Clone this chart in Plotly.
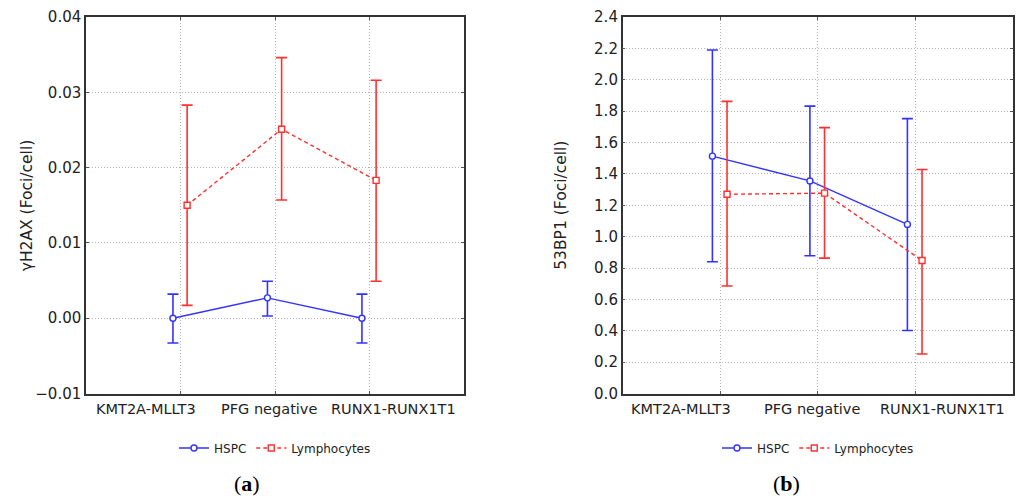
import plotly.graph_objects as go

categories = ["KMT2A-MLLT3", "PFG negative", "RUNX1-RUNX1T1"]
tick_pos = [0, 1, 2]
# where the category labels sit along each x axis (they are spread wider than the grid)
label_pos_a = [-0.37, 0.94, 2.25]
label_pos_b = [-0.40, 0.94, 2.28]

# Panel (a): γH2AX
a_hspc = [0.0000, 0.0027, 0.0000]
a_hspc_hi = [0.0032, 0.0049, 0.0032]
a_hspc_lo = [-0.0033, 0.0003, -0.0033]
a_lym = [0.0150, 0.0251, 0.0183]
a_lym_hi = [0.0283, 0.0346, 0.0316]
a_lym_lo = [0.0017, 0.0157, 0.0049]

# Panel (b): 53BP1
b_hspc = [1.513, 1.355, 1.078]
b_hspc_hi = [2.190, 1.832, 1.752]
b_hspc_lo = [0.840, 0.878, 0.402]
b_lym = [1.270, 1.277, 0.848]
b_lym_hi = [1.862, 1.695, 1.428]
b_lym_lo = [0.685, 0.863, 0.252]

BLUE = "#3333ff"
RED = "#ff3030"
off_h, off_l = -0.08, 0.07

def errs(v, hi, lo):
    return [h - x for h, x in zip(hi, v)], [x - l for l, x in zip(lo, v)]

fig = go.Figure()

def add(v, hi, lo, off, name, color, symbol, dash, xa, ya, legend):
    up, dn = errs(v, hi, lo)
    fig.add_trace(go.Scatter(
        x=[p + off for p in tick_pos], y=v, name=name, mode="lines+markers",
        line=dict(color=color, width=1.4, dash=dash),
        marker=dict(symbol=symbol, size=6, color="white", line=dict(color=color, width=1.4)),
        error_y=dict(type="data", symmetric=False, array=up, arrayminus=dn,
                     color=color, thickness=1.6, width=5.5),
        xaxis=xa, yaxis=ya, legend=legend))

add(a_hspc, a_hspc_hi, a_hspc_lo, off_h, "HSPC", BLUE, "circle", "solid", "x", "y", "legend")
add(a_lym, a_lym_hi, a_lym_lo, off_l, "Lymphocytes", RED, "square", "4px,3px", "x", "y", "legend")
add(b_hspc, b_hspc_hi, b_hspc_lo, off_h, "HSPC", BLUE, "circle", "solid", "x2", "y2", "legend2")
add(b_lym, b_lym_hi, b_lym_lo, off_l, "Lymphocytes", RED, "square", "4px,3px", "x2", "y2", "legend2")

W, H = 1016, 504
ydom = [1 - 393.5 / H, 1 - 17 / H]
ymid = (ydom[0] + ydom[1]) / 2
font = dict(family="DejaVu Sans, Verdana, sans-serif", size=13, color="#222")

GRID = "#b4b4b4"
xcommon = dict(range=[-1, 3], tickvals=tick_pos, showticklabels=False, automargin=False,
               showgrid=True, gridcolor=GRID, griddash="1px,2px", gridwidth=1,
               showline=True, linecolor="#333", linewidth=1.5, mirror="ticks",
               ticks="inside", ticklen=3, tickcolor="#555", zeroline=False)
ycommon = dict(showgrid=True, gridcolor=GRID, griddash="1px,2px", gridwidth=1,
               showline=True, linecolor="#333", linewidth=1.5, mirror="ticks",
               ticks="inside", ticklen=3, tickcolor="#555", zeroline=False,
               automargin=False, tickfont=dict(size=15))

capfont = dict(family="Liberation Serif, Times New Roman, serif", size=22, color="black")

annotations = []
for xref, pos in (("x", label_pos_a), ("x2", label_pos_b)):
    for p, c in zip(pos, categories):
        annotations.append(dict(text=c, x=p, y=1 - 409 / H, xref=xref, yref="paper",
                                xanchor="center", yanchor="middle", showarrow=False,
                                font=dict(size=14.5, color="#222")))
annotations += [
    dict(text="γH2AX (Foci/cell)", x=27 / W, y=ymid, xref="paper", yref="paper",
         textangle=-90, xanchor="center", yanchor="middle", showarrow=False,
         font=dict(size=15.5, color="#222")),
    dict(text="53BP1 (Foci/cell)", x=561.5 / W, y=ymid, xref="paper", yref="paper",
         textangle=-90, xanchor="center", yanchor="middle", showarrow=False,
         font=dict(size=15.5, color="#222")),
    dict(text="(<b>a</b>)", x=247 / W, y=1 - 483.5 / H, xref="paper", yref="paper",
         xanchor="center", yanchor="middle", showarrow=False, font=capfont),
    dict(text="(<b>b</b>)", x=786.5 / W, y=1 - 483.5 / H, xref="paper", yref="paper",
         xanchor="center", yanchor="middle", showarrow=False, font=capfont),
]

fig.update_layout(
    width=W, height=H, paper_bgcolor="white", plot_bgcolor="white", font=font,
    margin=dict(l=0, r=0, t=0, b=0, autoexpand=False),
    xaxis=dict(domain=[86 / W, 464 / W], anchor="y", **xcommon),
    yaxis=dict(domain=ydom, anchor="x", range=[-0.01, 0.04], dtick=0.01,
               tickformat=".2f", **ycommon),
    xaxis2=dict(domain=[622.7 / W, 1012.7 / W], anchor="y2", **xcommon),
    yaxis2=dict(domain=ydom, anchor="x2", range=[0, 2.4], dtick=0.2,
                tickformat=".1f", **ycommon),
    legend=dict(orientation="h", x=275 / W, y=1 - 448 / H, xanchor="center",
                yanchor="middle", font=dict(size=12), itemwidth=30),
    legend2=dict(orientation="h", x=818 / W, y=1 - 448 / H, xanchor="center",
                 yanchor="middle", font=dict(size=12), itemwidth=30),
    annotations=annotations,
)

fig.write_html("out.html", config={"displayModeBar": False},
               post_script="document.body.style.margin='0';document.body.style.overflow='hidden';")
